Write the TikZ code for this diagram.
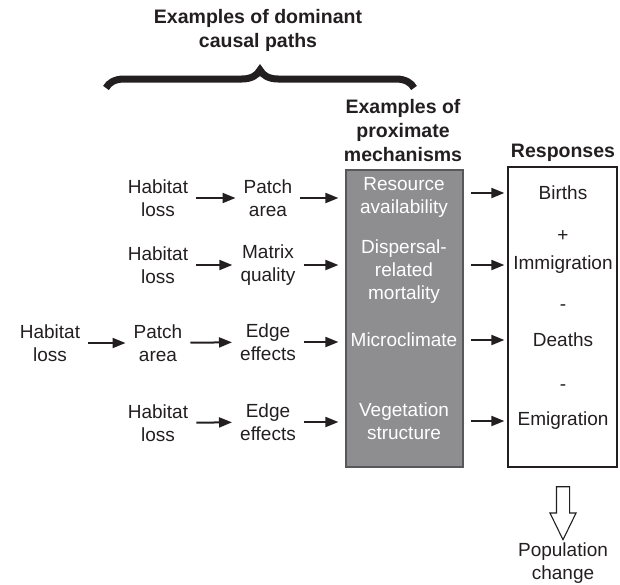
\documentclass[tikz,border=0pt]{standalone}
\usepackage{fontspec}
\setmainfont{Liberation Sans}
\usetikzlibrary{arrows.meta,positioning,decorations.pathreplacing,shapes.arrows}
\definecolor{ink}{HTML}{231F20}
\definecolor{mechgray}{HTML}{8E8E90}
\definecolor{mechedge}{HTML}{58585A}
\tikzset{
  lbl/.style={align=center, text=ink, inner sep=1pt,
    font=\fontsize{19}{23}\selectfont},
  headlbl/.style={lbl, font=\fontsize{19.5}{24}\selectfont\bfseries},
  mechlbl/.style={lbl, text=white},
  mechbox/.style={draw=mechedge, fill=mechgray, line width=1.2pt},
  respbox/.style={draw=ink, fill=white, line width=1.3pt},
  arr/.style={-{Triangle[length=13pt,width=10pt]}, line width=2pt, draw=ink,
    shorten <=7pt, shorten >=7pt},
  poparrow/.style={single arrow, draw=ink, line width=1.1pt, inner sep=6pt,
    minimum height=53pt, single arrow head extend=6.5pt,
    single arrow tip angle=52, rotate=-90}
}
\begin{document}
\begin{tikzpicture}[x=1pt,y=-1pt]
        \useasboundingbox (0,0) rectangle (620,584);
        % headings
        \node[headlbl] (domhead) at (258,30) {Examples of dominant\\causal paths};
        \coordinate (brL) at (106,88);
        \coordinate (brR) at (414,88);
        \draw[ink, line width=7pt, decorate, decoration={brace, amplitude=18pt}] (brL) -- (brR);
        \node[headlbl] (mechhead) at (403,131) {Examples of\\proximate\\mechanisms};
        \node[headlbl] (resphead) at (563,153) {Responses};
        % boxes
        \node[mechbox, minimum width=117pt, minimum height=297pt] (mech) at (404.5,318.5) {};
        \node[respbox, minimum width=109pt, minimum height=300pt] (resp) at (562.5,317) {};
        % causal paths
        \node[lbl] (hl1) at (158,198) {Habitat\\loss};
        \node[lbl] (pa1) at (268,198) {Patch\\area};
        \node[lbl] (hl2) at (158,265) {Habitat\\loss};
        \node[lbl] (mq2) at (268,265) {Matrix\\quality};
        \node[lbl] (hl3) at (50,343) {Habitat\\loss};
        \node[lbl] (pa3) at (158,343) {Patch\\area};
        \node[lbl] (ee3) at (268,342) {Edge\\effects};
        \node[lbl] (hl4) at (158,423) {Habitat\\loss};
        \node[lbl] (ee4) at (268,422) {Edge\\effects};
        % mechanisms
        \node[mechlbl] (resav) at (404,197) {Resource\\availability};
        \node[mechlbl] (dispm) at (404,271.5) {Dispersal-\\related\\mortality};
        \node[mechlbl] (micro) at (404,340) {Microclimate};
        \node[mechlbl] (veget) at (404,421.5) {Vegetation\\structure};
        % responses
        \node[lbl] (births) at (563,193) {Births};
        \node[lbl] (plus) at (563,236) {+};
        \node[lbl] (immig) at (563,265) {Immigration};
        \node[lbl] (minusa) at (563,308) {-};
        \node[lbl] (deaths) at (563,340) {Deaths};
        \node[lbl] (minusb) at (563,388) {-};
        \node[lbl] (emig) at (563,421) {Emigration};
        \node[lbl] (pop) at (563,563.5) {Population\\change};
        \node[poparrow] (poparr) at (563,506.5) {};
        % arrows
        \draw[arr] (hl1) -- (pa1);
        \draw[arr] (hl2) -- (mq2);
        \draw[arr] (hl3) -- (pa3);
        \draw[arr] (pa3) -- (ee3);
        \draw[arr] (hl4) -- (ee4);
        \draw[arr] (pa1.east) -- (pa1.east -| mech.west);
        \draw[arr] (mq2.east) -- (mq2.east -| mech.west);
        \draw[arr] (ee3.east) -- (ee3.east -| mech.west);
        \draw[arr] (ee4.east) -- (ee4.east -| mech.west);
        \draw[arr, shorten >=3pt] (births -| mech.east) -- (births -| resp.west);
        \draw[arr, shorten >=3pt] (immig -| mech.east) -- (immig -| resp.west);
        \draw[arr, shorten >=3pt] (deaths -| mech.east) -- (deaths -| resp.west);
        \draw[arr, shorten >=3pt] (emig -| mech.east) -- (emig -| resp.west);
      \end{tikzpicture}
\end{document}
